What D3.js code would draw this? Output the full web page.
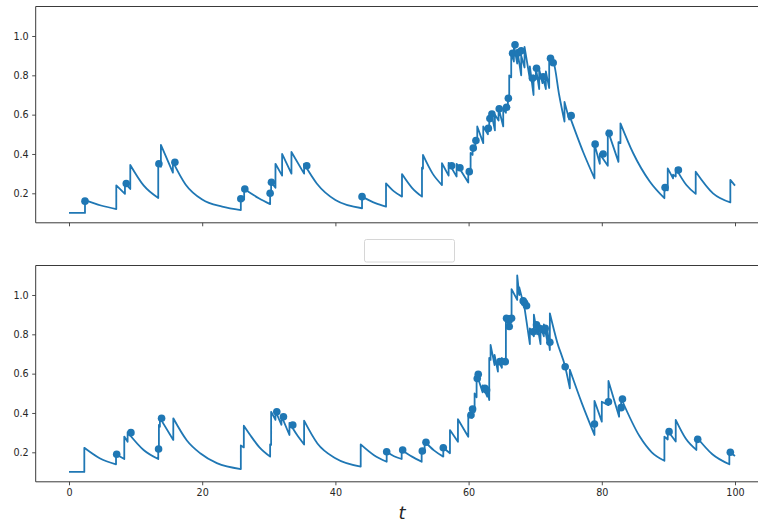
<!DOCTYPE html>
<html>
<head>
<meta charset="utf-8">
<script src="https://cdn.jsdelivr.net/npm/d3@7"></script>
<style>
  html, body { margin: 0; padding: 0; background: #fff; }
  svg { display: block; font-family: "DejaVu Sans", sans-serif; }
</style>
</head>
<body>
<svg id="chart" width="758" height="522"></svg>
<script>
// Intensity trace of the first process: [t, λ(t)]; a repeated t is a jump
const topLine = [
  [0,0.1],[2.4,0.1],
  [2.4,0.165],[4.8,0.138],[7.1,0.12],
  [7.1,0.24],[8.4,0.197],
  [8.4,0.252],[9.2,0.222],
  [9.2,0.344],[11.2,0.24],[13.4,0.176],
  [13.4,0.35],[13.8,0.335],
  [13.8,0.446],[15.6,0.305],
  [15.6,0.36],[17.5,0.245],[20,0.168],[23,0.132],[25.8,0.115],
  [25.8,0.172],[26.3,0.168],
  [26.3,0.222],[28.5,0.175],[30.2,0.145],
  [30.2,0.2],[30.35,0.198],
  [30.35,0.256],[31.0,0.228],
  [31.0,0.35],[32.0,0.29],
  [32.0,0.4],[33.4,0.3],
  [33.4,0.41],[35.3,0.3],
  [35.3,0.35],[37.2,0.25],[40,0.166],[44,0.124],
  [44,0.183],[46,0.15],[47.6,0.132],
  [47.6,0.251],[48.8,0.21],[50.0,0.183],
  [50.0,0.298],[51.5,0.228],[53.0,0.183],
  [53.0,0.33],[53.15,0.325],
  [53.15,0.395],[54.6,0.3],[56.0,0.242],
  [56.0,0.353],[57.0,0.29],
  [57.0,0.355],[58.2,0.285],
  [58.2,0.35],[59.95,0.255],
  [59.95,0.318],[60.3,0.31],
  [60.3,0.405],[60.6,0.395],
  [60.6,0.432],[61.0,0.42],
  [61.0,0.47],[61.3,0.46],
  [61.3,0.54],[62.2,0.455],
  [62.2,0.54],[62.9,0.5],
  [62.9,0.535],[63.1,0.53],
  [63.1,0.585],[63.4,0.575],
  [63.4,0.61],[63.95,0.52],
  [63.95,0.6],[64.5,0.57],
  [64.5,0.635],[65.2,0.54],
  [65.2,0.63],[65.6,0.61],
  [65.6,0.64],[65.9,0.63],
  [65.9,0.685],[66.1,0.675],
  [66.1,0.8],[66.4,0.79],
  [66.4,0.915],[66.8,0.87],
  [66.8,0.955],[67.3,0.86],
  [67.3,0.93],[67.9,0.8],
  [67.9,0.9],[68.4,0.84],
  [68.4,0.945],[69.2,0.78],
  [69.2,0.845],[69.75,0.7],
  [69.75,0.8],[70.1,0.78],
  [70.1,0.84],[70.6,0.73],
  [70.6,0.83],[71.1,0.76],
  [71.1,0.8],[71.6,0.73],
  [71.6,0.82],[72.1,0.735],
  [72.1,0.89],[72.8,0.86],[73.6,0.7],[74.4,0.565],
  [74.4,0.665],[75.1,0.575],
  [75.1,0.6],[77.2,0.41],[78.9,0.276],
  [78.9,0.45],[79.7,0.35],
  [79.7,0.40],[80.9,0.34],
  [80.9,0.52],[82.5,0.36],
  [82.5,0.46],[82.8,0.455],
  [82.8,0.556],[84.7,0.405],[87.2,0.26],[89.4,0.175],
  [89.4,0.23],[89.9,0.215],
  [89.9,0.327],[90.7,0.276],
  [90.7,0.295],[91.1,0.285],
  [91.1,0.328],[92.7,0.242],[94.1,0.197],
  [94.1,0.31],[96.7,0.2],[99.3,0.154],
  [99.3,0.268],[100,0.239]
];

// Event marks of the first process: [t, λ(t)]
const topEvents = [
  [2.4,0.16],[8.6,0.25],[13.5,0.35],[15.9,0.358],[25.8,0.172],[26.4,0.222],
  [30.2,0.2],[30.4,0.256],[35.7,0.34],[44.0,0.183],[57.45,0.34],[58.7,0.33],
  [60.1,0.31],[60.7,0.43],[61.1,0.468],[62.96,0.53],[63.2,0.58],[63.5,0.603],
  [64.6,0.63],[65.7,0.637],[65.97,0.683],[66.6,0.912],[66.97,0.955],[67.5,0.915],
  [67.9,0.925],[69.6,0.785],[70.2,0.836],[71.2,0.793],[72.3,0.887],[72.7,0.864],
  [75.4,0.595],[79.0,0.45],[80.2,0.4],[81.1,0.505],[89.5,0.229],[91.5,0.318]
];

// Intensity trace of the second process
const bottomLine = [
  [0,0.1],[2.3,0.1],
  [2.3,0.223],[4.6,0.17],[7.06,0.139],
  [7.06,0.19],[8.3,0.166],
  [8.3,0.28],[8.8,0.254],
  [8.8,0.302],[11.2,0.212],[13.4,0.166],
  [13.4,0.217],[13.5,0.215],
  [13.5,0.339],[13.65,0.33],
  [13.65,0.375],[15.66,0.263],
  [15.66,0.373],[17.7,0.26],[19.7,0.195],[22.2,0.145],[25.8,0.115],
  [25.8,0.235],[26.25,0.225],
  [26.25,0.335],[27.2,0.288],[28.6,0.225],[30.2,0.178],
  [30.2,0.24],[30.35,0.238],
  [30.35,0.406],[31.0,0.365],
  [31.0,0.41],[31.9,0.34],
  [31.9,0.385],[33.1,0.288],
  [33.1,0.35],[34.2,0.29],[35.3,0.24],
  [35.3,0.361],[37.3,0.245],[40,0.17],[43.8,0.127],
  [43.8,0.24],[45.8,0.185],[47.7,0.152],
  [47.7,0.203],[48.8,0.18],[49.95,0.166],
  [49.95,0.212],[51.5,0.178],[52.95,0.152],
  [52.95,0.207],[53.4,0.2],
  [53.4,0.255],[54.8,0.21],[56.2,0.178],
  [56.2,0.223],[57.2,0.195],
  [57.2,0.313],[58.4,0.254],
  [58.4,0.368],[59.95,0.279],
  [59.95,0.39],[60.5,0.375],
  [60.5,0.42],[60.9,0.405],
  [60.9,0.5],[61.2,0.48],
  [61.2,0.6],[62.1,0.505],
  [62.1,0.54],[62.8,0.483],
  [62.8,0.52],[63.1,0.466],
  [63.1,0.68],[63.3,0.67],
  [63.3,0.746],[63.9,0.644],
  [63.9,0.695],[64.4,0.61],
  [64.4,0.67],[65.0,0.63],
  [65.0,0.68],[65.6,0.65],
  [65.6,0.885],[66.0,0.85],
  [66.0,0.885],[66.45,0.86],
  [66.45,1.03],[67.3,0.975],
  [67.3,1.1],[67.6,1.0],
  [67.6,1.04],[68.2,0.96],
  [68.2,0.98],[69.2,0.75],
  [69.2,0.83],[69.8,0.79],
  [69.8,0.9],[70.3,0.8],
  [70.3,0.85],[70.8,0.75],
  [70.8,0.84],[71.3,0.79],
  [71.3,0.85],[71.8,0.77],
  [71.8,0.83],[72.2,0.72],
  [72.2,0.907],[73.3,0.76],[74.5,0.635],[75.2,0.525],
  [75.2,0.62],[77.0,0.45],[78.9,0.288],
  [78.9,0.462],[80.0,0.356],
  [80.0,0.457],[81.0,0.44],
  [81.0,0.563],[82.6,0.381],
  [82.6,0.43],[82.9,0.42],
  [82.9,0.475],[85.7,0.28],[87.5,0.2],[89.4,0.157],
  [89.4,0.28],[89.9,0.265],
  [89.9,0.31],[91.1,0.255],
  [91.1,0.365],[92.6,0.27],[94.2,0.212],
  [94.2,0.279],[96.6,0.19],[99.15,0.139],
  [99.15,0.203],[100,0.181]
];

// Event marks of the second process
const bottomEvents = [
  [7.16,0.19],[9.3,0.3],[13.45,0.217],[13.9,0.373],[31.2,0.406],[32.2,0.381],
  [33.6,0.339],[47.7,0.203],[50.1,0.212],[53.05,0.207],[53.6,0.251],[56.2,0.223],
  [60.36,0.39],[60.6,0.42],[61.3,0.575],[61.45,0.597],[62.45,0.526],[62.7,0.517],
  [64.7,0.661],[65.5,0.661],[65.7,0.882],[65.96,0.873],[66.1,0.84],[66.45,0.882],
  [68.2,0.97],[68.4,0.96],[68.7,0.945],[69.7,0.813],[70.2,0.848],[70.6,0.83],
  [71.0,0.825],[71.5,0.83],[72.2,0.76],[74.5,0.635],[78.9,0.344],[81.0,0.457],
  [82.9,0.427],[83.1,0.471],[90.1,0.305],[94.4,0.266],[99.3,0.2]
];

const xTicks = [0, 20, 40, 60, 80, 100];
const yTicks = [0.2, 0.4, 0.6, 0.8, 1.0];
const xDomain = [-5, 105];
const yDomain = [0.05, 1.15];
const xLabel = "t";

const svg = d3.select("#chart");
const blue = "#1f77b4";
const spineColor = "#3a3a3a";
const textColor = "#262626";

const x = d3.scaleLinear().domain(xDomain).range([35.7, 768.3]);

const panels = [
  { line: topLine, events: topEvents, top: 6.5, bottom: 222.8, labels: false },
  { line: bottomLine, events: bottomEvents, top: 265.5, bottom: 481.8, labels: true }
];

// Build one continuous path: smooth decay runs joined by vertical jumps
function tracePath(points, xs, ys) {
  const runs = [];
  let run = [];
  points.forEach((p, i) => {
    if (i > 0 && p[0] === points[i - 1][0]) { runs.push(run); run = []; }
    run.push(p);
  });
  runs.push(run);
  const gen = d3.line().x(d => xs(d[0])).y(d => ys(d[1])).curve(d3.curveMonotoneX);
  return runs.map((r, i) => {
    const s = gen(r);
    return i === 0 ? s : "L" + s.slice(1);
  }).join("");
}

panels.forEach(pn => {
  const y = d3.scaleLinear().domain(yDomain).range([pn.bottom, pn.top]);
  const g = svg.append("g");

  // intensity trace
  g.append("path")
    .attr("d", tracePath(pn.line, x, y))
    .attr("fill", "none")
    .attr("stroke", blue)
    .attr("stroke-width", 1.8)
    .attr("stroke-linejoin", "round");

  // events
  g.selectAll("circle.ev").data(pn.events).join("circle")
    .attr("class", "ev")
    .attr("cx", d => x(d[0]))
    .attr("cy", d => y(d[1]))
    .attr("r", 3.8)
    .attr("fill", blue);

  // axes
  const xAxis = d3.axisBottom(x).tickValues(xTicks).tickSize(3.5).tickPadding(3.5)
    .tickFormat(pn.labels ? d3.format("d") : () => "");
  const gx = g.append("g").attr("transform", `translate(0,${pn.bottom})`).call(xAxis);
  const yAxis = d3.axisLeft(y).tickValues(yTicks).tickSize(3.5).tickPadding(3.5)
    .tickFormat(d3.format(".1f"));
  const gy = g.append("g").attr("transform", `translate(${x(xDomain[0])},0)`).call(yAxis);

  [gx, gy].forEach(a => {
    a.select(".domain").remove();
    a.selectAll(".tick line").attr("stroke", spineColor).attr("stroke-width", 0.9);
    a.selectAll(".tick text").attr("fill", textColor)
      .style("font-family", "'DejaVu Sans', sans-serif").style("font-size", "9.6px");
  });

  // spines
  const x0 = x(xDomain[0]), x1 = x(xDomain[1]);
  g.append("path")
    .attr("d", `M${x1},${pn.top}H${x0}V${pn.bottom}H${x1}V${pn.top}`)
    .attr("fill", "none")
    .attr("stroke", spineColor)
    .attr("stroke-width", 1);
});

// empty legend frame between the panels
svg.append("rect")
  .attr("x", 364.5).attr("y", 239.5)
  .attr("width", 90).attr("height", 22.5)
  .attr("rx", 2)
  .attr("fill", "#fff")
  .attr("stroke", "#d6d6d6")
  .attr("stroke-width", 1);

// x-axis title
svg.append("text")
  .attr("x", (x(xDomain[0]) + x(xDomain[1])) / 2)
  .attr("y", 519)
  .attr("text-anchor", "middle")
  .attr("fill", textColor)
  .style("font-family", "'DejaVu Sans', sans-serif")
  .style("font-style", "italic")
  .style("font-size", "18px")
  .text(xLabel);
</script>
</body>
</html>
